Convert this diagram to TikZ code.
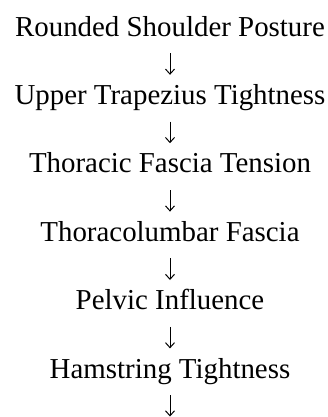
\documentclass[tikz,border=0pt]{standalone}
\usepackage{fontspec}
\setmainfont{Liberation Serif}
\usetikzlibrary{arrows.meta}
\tikzset{
	>={Straight Barb[length=5bp,width=9bp]},
	stepbox/.style = {
			inner sep   = 0pt,
			text height = 22bp,
			text depth  = 7bp,
			font        = \fontsize{29}{34}\selectfont,
		},
	flow/.style = {->, line width=1bp, shorten <=10bp, shorten >=7.4bp},
}

\begin{document}
\begin{tikzpicture}[x=1bp,y=1bp]
		\useasboundingbox (0,0) rectangle (328,-417);

		\foreach \i/\A in {
		1/{Rounded Shoulder Posture},
		2/{Upper Trapezius Tightness},
		3/{Thoracic Fascia Tension},
		4/{Thoracolumbar Fascia},
		5/{Pelvic Influence},
		6/{Hamstring Tightness}
		} {
		\node[stepbox, anchor=base] (n\i) at (170,{-36-68.4*(\i-1)}) {\A};
		}
		\coordinate (end) at (170,-416.5);

		\foreach \i/\j in {1/2,2/3,3/4,4/5,5/6} {
		\draw[flow] (n\i) -- (n\j);
		}
		\draw[flow, shorten >=0pt] (n6) -- (end);
	\end{tikzpicture}
\end{document}
